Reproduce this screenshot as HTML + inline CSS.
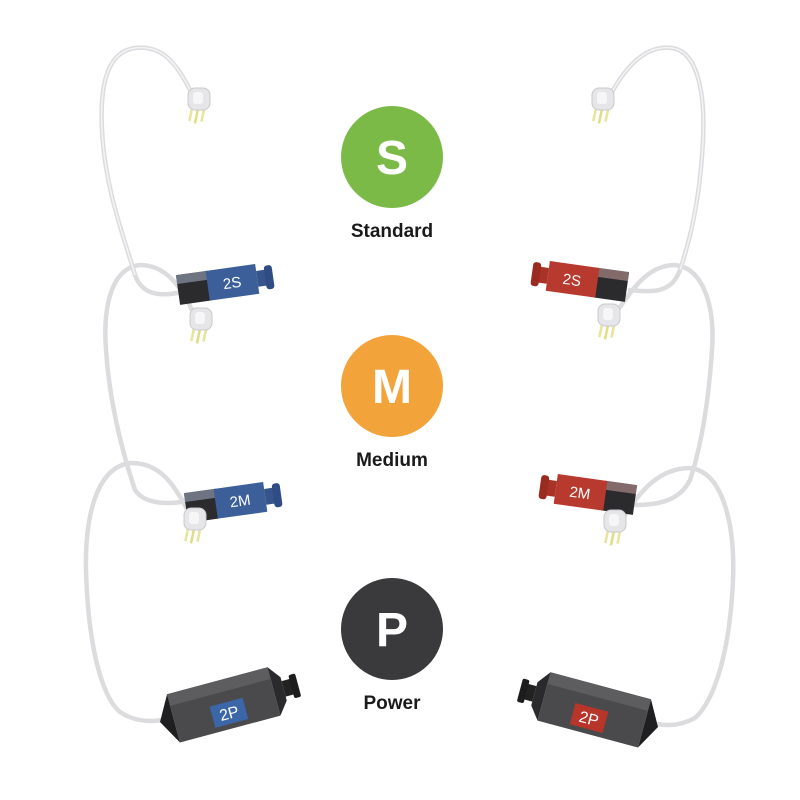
<!DOCTYPE html>
<html><head><meta charset="utf-8"><style>
html,body{margin:0;padding:0;background:#fff;}
svg{display:block}
text{font-family:"Liberation Sans",sans-serif;font-weight:bold}
text.lb{font-weight:normal}
</style></head><body>
<svg width="800" height="800" viewBox="0 0 800 800" xmlns="http://www.w3.org/2000/svg">
<defs>
  <g id="conn">
    <rect x="-3" y="8" width="2.5" height="16" fill="#e8e49a" transform="rotate(12)"/>
    <rect x="3" y="8" width="2.5" height="17" fill="#e2dc86" transform="rotate(12)"/>
    <rect x="9" y="6" width="2.5" height="16" fill="#e8e49a" transform="rotate(12)"/>
    <rect x="-8" y="-10" width="22" height="22" rx="7" fill="#e6e6e8" stroke="#c9c9cc" stroke-width="1"/>
    <rect x="-3" y="-6" width="10" height="12" rx="3" fill="#f6f6f6"/>
  </g>
  <g id="recB">
    <rect x="0" y="-15" width="32" height="30" fill="#2b2b2e"/>
    <rect x="0" y="-15" width="32" height="9" fill="#8d94a8" opacity="0.7"/>
    <rect x="30" y="-15" width="50" height="30" fill="#3c5f9a"/>
    <rect x="80" y="-8" width="10" height="16" fill="#36558c"/>
    <rect x="88" y="-12" width="8" height="24" rx="3" fill="#2f4d84"/>
  </g>
  <g id="recR">
    <rect x="0" y="-15" width="32" height="30" fill="#2b2b2e"/>
    <rect x="0" y="-15" width="32" height="9" fill="#a88" opacity="0.7"/>
    <rect x="30" y="-15" width="50" height="30" fill="#b83a2e"/>
    <rect x="80" y="-8" width="10" height="16" fill="#a83226"/>
    <rect x="88" y="-12" width="8" height="24" rx="3" fill="#9a2b20"/>
  </g>
  <g id="pow">
    <polygon points="0,0 14,-25 14,25" fill="#1f1f21"/>
    <rect x="14" y="-25" width="104" height="50" fill="#4a4a4d"/>
    <rect x="14" y="-25" width="104" height="12" fill="#5d5d60"/>
    <polygon points="118,-25 128,-12 128,12 118,25" fill="#2a2a2c"/>
    <rect x="128" y="-8" width="10" height="16" fill="#222"/>
    <rect x="136" y="-12" width="7" height="24" rx="2" fill="#1c1c1c"/>
  </g>
</defs>

<g fill="none" stroke="#dcdcdf" stroke-width="4.5" stroke-linecap="round">
  <path d="M190 90 C175 60 160 45 135 48 C105 52 100 90 102 130 C105 190 125 240 135 275 C142 295 160 297 182 292"/>
  <path d="M192 310 C180 285 165 265 140 265 C110 268 103 310 106 350 C110 410 125 460 135 490 C145 505 170 505 192 500"/>
  <path d="M190 515 C175 485 160 462 130 463 C95 468 85 520 86 570 C88 640 100 695 120 712 C135 722 150 722 162 720"/>
  <path d="M612 92 C630 60 650 45 672 48 C700 52 705 100 703 140 C700 200 690 240 680 270 C672 292 655 293 630 290"/>
  <path d="M618 310 C635 285 650 265 675 265 C705 268 715 310 712 350 C708 410 700 450 690 480 C680 500 660 505 635 505"/>
  <path d="M622 520 C640 490 660 468 690 468 C725 472 735 530 733 580 C730 650 715 700 695 718 C680 726 668 726 658 724"/>
</g>
<g fill="none" stroke="#f4f4f6" stroke-width="1.5">
  <path d="M190 90 C175 60 160 45 135 48 C105 52 100 90 102 130 C105 190 125 240 135 275"/>
  <path d="M612 92 C630 60 650 45 672 48 C700 52 705 100 703 140 C700 200 690 240 680 270"/>
</g>

<!-- receivers -->
<g transform="translate(178,290) rotate(-8)"><use href="#recB"/></g>
<text class="lb" x="232" y="288" font-size="15" fill="#fff" text-anchor="middle" transform="rotate(-8 232 282)">2S</text>
<g transform="translate(186,508) rotate(-8)"><use href="#recB"/></g>
<text class="lb" x="240" y="506" font-size="15" fill="#fff" text-anchor="middle" transform="rotate(-8 240 500)">2M</text>
<g transform="translate(627,287) scale(-1,1) rotate(-8)"><use href="#recR"/></g>
<text class="lb" x="572" y="285" font-size="15" fill="#fff" text-anchor="middle" transform="rotate(8 572 279)">2S</text>
<g transform="translate(635,500) scale(-1,1) rotate(-8)"><use href="#recR"/></g>
<text class="lb" x="580" y="498" font-size="15" fill="#fff" text-anchor="middle" transform="rotate(8 580 492)">2M</text>

<!-- connectors -->
<use href="#conn" x="196" y="98"/>
<use href="#conn" x="198" y="318"/>
<use href="#conn" x="192" y="518"/>
<use href="#conn" x="600" y="98"/>
<use href="#conn" x="606" y="314"/>
<use href="#conn" x="612" y="520"/>

<!-- power -->
<g transform="translate(160,722) rotate(-15)"><use href="#pow"/><rect x="52" y="-2" width="34" height="22" fill="#3b66a8"/><text class="lb" x="69" y="15" font-size="16" fill="#fff" text-anchor="middle">2P</text></g>
<g transform="translate(658,727) scale(-1,1) rotate(-15)"><use href="#pow"/></g>
<g transform="translate(589,718) rotate(15)"><rect x="-17" y="-11" width="34" height="22" fill="#b8352a"/><text class="lb" x="0" y="6" font-size="16" fill="#fff" text-anchor="middle">2P</text></g>

<!-- badges -->
<circle cx="392" cy="157" r="51" fill="#7cba48"/>
<text x="392" y="174" font-size="48" fill="#fff" text-anchor="middle">S</text>
<text x="392" y="237" font-size="19" fill="#1a1a1a" text-anchor="middle">Standard</text>
<circle cx="392" cy="386" r="51" fill="#f2a33a"/>
<text x="392" y="403" font-size="48" fill="#fff" text-anchor="middle">M</text>
<text x="392" y="466" font-size="19" fill="#1a1a1a" text-anchor="middle">Medium</text>
<circle cx="392" cy="629" r="51" fill="#3a3a3c"/>
<text x="392" y="646" font-size="48" fill="#fff" text-anchor="middle">P</text>
<text x="392" y="709" font-size="19" fill="#1a1a1a" text-anchor="middle">Power</text>
</svg>
</body></html>
